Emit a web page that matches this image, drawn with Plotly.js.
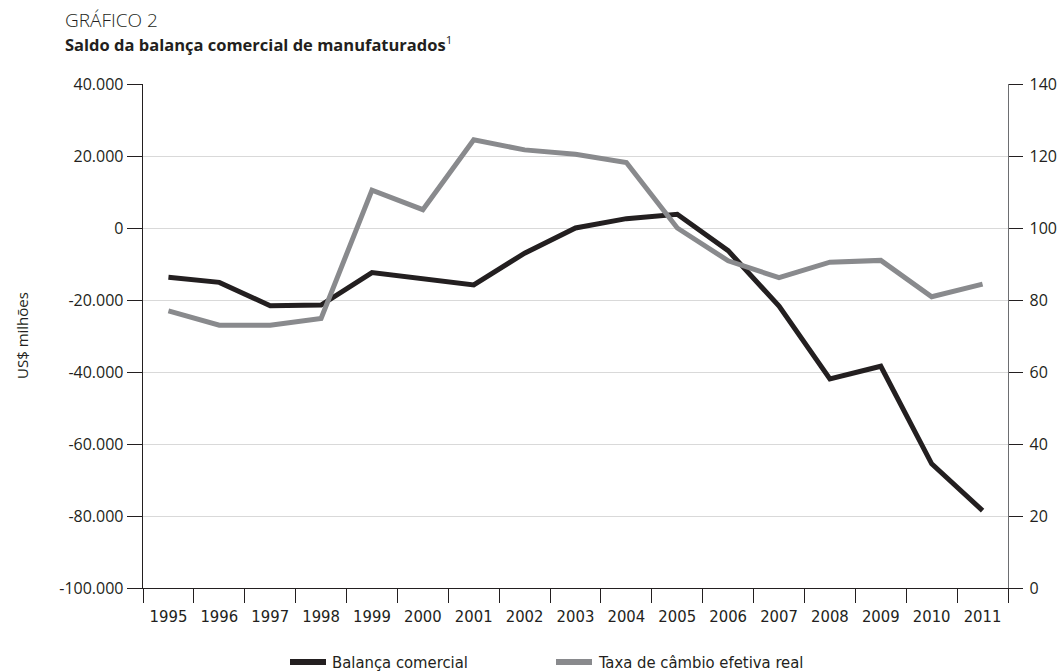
<!DOCTYPE html>
<html>
<head>
<meta charset="utf-8">
<script src="https://cdn.plot.ly/plotly-3.0.1.min.js"></script>
<style>
html,body{margin:0;padding:0;background:#fff;}
#chart{width:1064px;height:671px;}
</style>
</head>
<body>
<div id="chart"></div>
<script>
// Categories (years)
const years = ["1995","1996","1997","1998","1999","2000","2001","2002","2003","2004","2005","2006","2007","2008","2009","2010","2011"];
// Saldo da balança comercial de manufaturados (US$ milhões) - left axis
const balanca = [-13700,-15100,-21600,-21400,-12400,-14000,-15800,-7000,0,2600,3800,-6300,-21700,-41900,-38400,-65500,-78500];
// Taxa de câmbio efetiva real (index) - right axis
const cambio = [77.0,73.0,73.0,74.9,110.5,105.1,124.5,121.7,120.5,118.2,100.0,90.9,86.2,90.5,91.0,80.9,84.4];
// Tick labels
const yTickVals = [40000,20000,0,-20000,-40000,-60000,-80000,-100000];
const yTickText = ["40.000","20.000","0","-20.000","-40.000","-60.000","-80.000","-100.000"];
const y2TickVals = [0,20,40,60,80,100,120,140];
// Series names
const seriesNames = ["Balança comercial","Taxa de câmbio efetiva real"];
const seriesColors = ["#231f20","#898a8d"];

// Plot area geometry (pixels)
const W = 1064, H = 671, L = 143, R = 56, T = 84, B = 83;
const PW = W - L - R, PH = H - T - B;
const px = v => (v - L) / PW;     // pixel x -> paper
const py = v => (H - B - v) / PH; // pixel y -> paper

const numFont = {family:"Open Sans, DejaVu Sans, sans-serif", size:16, color:"#231f20"};
const condFont = {family:"DejaVu Sans Condensed, Liberation Sans Narrow, Open Sans, sans-serif", size:16.5, color:"#231f20"};

const traces = [
  {x:years, y:balanca, name:seriesNames[0], type:"scatter", mode:"lines",
   line:{color:seriesColors[0], width:5}, yaxis:"y", showlegend:false},
  {x:years, y:cambio, name:seriesNames[1], type:"scatter", mode:"lines",
   line:{color:seriesColors[1], width:5}, yaxis:"y2", showlegend:false}
];

// Legend drawn as shapes + text (keeps plot margins fixed)
const legendItems = [
  {x0:290, x1:326, tx:330},
  {x0:556, x1:592, tx:596}
];
const legendY = 662;
const shapes = legendItems.map((it, i) => ({
  type:"line", xref:"paper", yref:"paper",
  x0:px(it.x0), x1:px(it.x1), y0:py(legendY), y1:py(legendY),
  line:{color:seriesColors[i], width:6}
}));
const legendTexts = legendItems.map((it, i) => ({
  text:seriesNames[i], xref:"paper", yref:"paper", x:px(it.tx), y:py(legendY),
  xanchor:"left", yanchor:"middle", showarrow:false, font:condFont
}));

const layout = {
  width:W, height:H,
  margin:{l:L, r:R, t:T, b:B},
  paper_bgcolor:"#fff", plot_bgcolor:"#fff",
  showlegend:false,
  xaxis:{type:"category", range:[-0.5,16.5], tickson:"boundaries", ticks:"outside", ticklen:14,
         tickcolor:"#231f20", tickwidth:1, showline:true, linecolor:"#231f20", linewidth:1.3,
         showgrid:false, tickfont:condFont, fixedrange:true, zeroline:false, ticklabelstandoff:13},
  yaxis:{range:[-100000,40000], tickvals:yTickVals, ticktext:yTickText, ticks:"outside", ticklen:15,
         tickcolor:"#231f20", showline:true, linecolor:"#231f20", linewidth:1.3,
         showgrid:true, gridcolor:"#d9d9d9", gridwidth:1, zeroline:false, tickfont:numFont, ticklabelstandoff:0},
  yaxis2:{range:[0,140], tickvals:y2TickVals, overlaying:"y", side:"right", ticks:"outside", ticklen:14,
          tickcolor:"#231f20", showline:true, linecolor:"#6d6e71", linewidth:1.3,
          showgrid:false, zeroline:false, tickfont:numFont, ticklabelstandoff:3},
  shapes:shapes,
  annotations:[
    {text:"GRÁFICO 2", xref:"paper", yref:"paper", x:px(63), y:py(20), xanchor:"left", yanchor:"middle",
     showarrow:false, font:{family:"Open Sans, sans-serif", size:19, weight:300, color:"#231f20"}},
    {text:"<b>Saldo da balança comercial de manufaturados</b><sup>1</sup>", xref:"paper", yref:"paper",
     x:px(63), y:py(44), xanchor:"left", yanchor:"middle", showarrow:false,
     font:{family:"Open Sans, sans-serif", size:16.5, color:"#231f20"}},
    {text:"US$ milhões", xref:"paper", yref:"paper", x:px(22), y:py(335), xanchor:"center", yanchor:"middle",
     textangle:-90, showarrow:false, font:{family:"Open Sans, sans-serif", size:15, color:"#231f20"}}
  ].concat(legendTexts)
};

Plotly.newPlot("chart", traces, layout, {displayModeBar:false, staticPlot:true});
</script>
</body>
</html>
